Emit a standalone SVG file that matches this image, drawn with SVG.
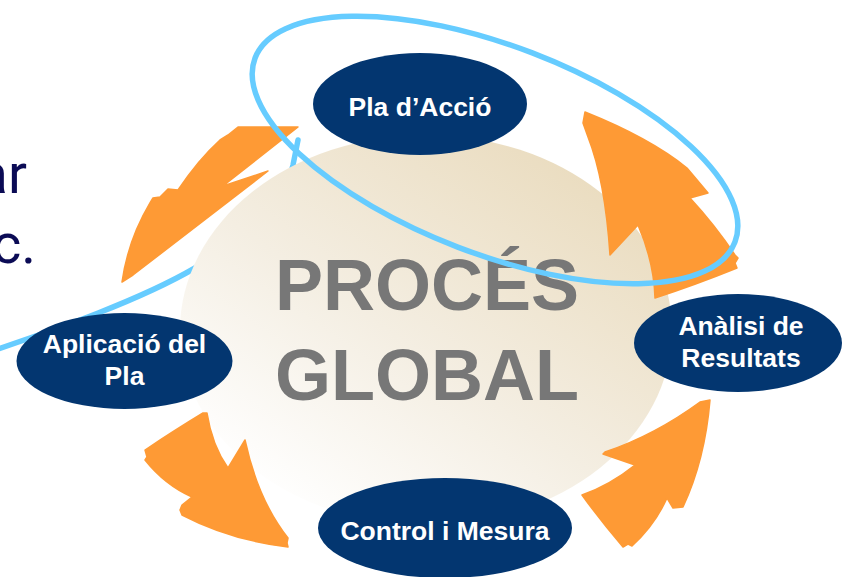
<svg xmlns="http://www.w3.org/2000/svg" width="843" height="577" viewBox="0 0 843 577">
  <defs>
    <linearGradient id="globeFill" x1="0.85" y1="0.1" x2="0.15" y2="0.9">
      <stop offset="0" stop-color="#EADCBF"/>
      <stop offset="0.55" stop-color="#F4EEE2"/>
      <stop offset="1" stop-color="#FFFFFF"/>
    </linearGradient>
    <style>
      .node ellipse { fill: #033670; }
      .node text { fill: #FFFFFF; font-family: "Liberation Sans", Arial, sans-serif; font-weight: bold; font-size: 26.5px; text-anchor: middle; }
      .arrow { fill: #FE9A35; stroke: #FE9A35; stroke-width: 1.5; stroke-linejoin: round; }
      .lasso { fill: none; stroke: #66CCFF; stroke-width: 5.5; stroke-linecap: round; }
      .side { fill: #0B0B55; font-family: Roboto, "Liberation Sans", sans-serif; font-size: 56px; text-anchor: end; }
      .title { fill: #777777; font-family: "Liberation Sans", Arial, sans-serif; font-weight: bold; font-size: 72px; text-anchor: middle; }
    </style>
  </defs>

  <rect width="843" height="577" fill="#FFFFFF"/>

  <!-- partial text cut by the left edge -->
  <text class="side" x="27" y="193">ar</text>
  <text class="side" x="36" y="263">c.</text>

  <!-- tail of the blue lasso, passing behind the globe -->
  <path class="lasso" d="M-5,350 C60,328 140,300 195,268 C245,238 285,200 293,165 L298,140"/>

  <!-- central globe -->
  <g id="globe">
    <ellipse cx="426" cy="330" rx="246" ry="195" fill="url(#globeFill)"/>
    <text class="title" x="427" y="310">PROCÉS</text>
    <text class="title" x="427" y="400">GLOBAL</text>
  </g>

  <!-- cycle arrows -->
  <g id="connectors">
    <path class="arrow" d="M122,282 Q128,240 150,203 L153,198 L160,197 L168,189 L178,190 Q198,160 220,140 L228,135 L238,127 L298,127 L223,186 L268,171 L133,275 Z"/>
    <path class="arrow" d="M585,112 Q650,138 687,168 L703,187 L708,193 L690,198 Q715,225 735,255 L738,258 L735,263 L737,268 Q695,285 655,298 Q654,262 638,225 L610,255 Q605,180 588,137 L583,123 Z"/>
    <path class="arrow" d="M710,400 L700,402 Q655,435 605,452 L603,454 L635,465 Q610,485 582,495 Q600,520 623,547 L628,544 L632,546 Q655,525 667,498 L673,508 L683,507 Q705,460 710,400 Z"/>
    <path class="arrow" d="M203,413 L207,413 Q212,445 228,468 L245,440 Q258,500 288,538 L287,543 L288,547 Q230,540 182,515 L180,510 L182,505 L192,497 Q165,485 145,460 L147,457 L145,450 Q175,430 203,413 Z"/>
  </g>

  <!-- blue lasso loop over the globe -->
  <ellipse class="lasso" cx="495" cy="150" rx="257" ry="104" transform="rotate(21 495 150)"/>

  <g id="node-pla" class="node">
    <ellipse cx="420" cy="104" rx="107" ry="51"/>
    <text x="420" y="116">Pla d’Acció</text>
  </g>

  <g id="node-aplicacio" class="node">
    <ellipse cx="124.5" cy="361" rx="108" ry="48"/>
    <text x="124.5" y="353">Aplicació del</text>
    <text x="124.5" y="385">Pla</text>
  </g>

  <g id="node-analisi" class="node">
    <ellipse cx="738" cy="343" rx="104" ry="49"/>
    <text x="741" y="335">Anàlisi de</text>
    <text x="741" y="367">Resultats</text>
  </g>

  <g id="node-control" class="node">
    <ellipse cx="445" cy="528" rx="127" ry="50"/>
    <text x="445" y="540">Control i Mesura</text>
  </g>
</svg>
